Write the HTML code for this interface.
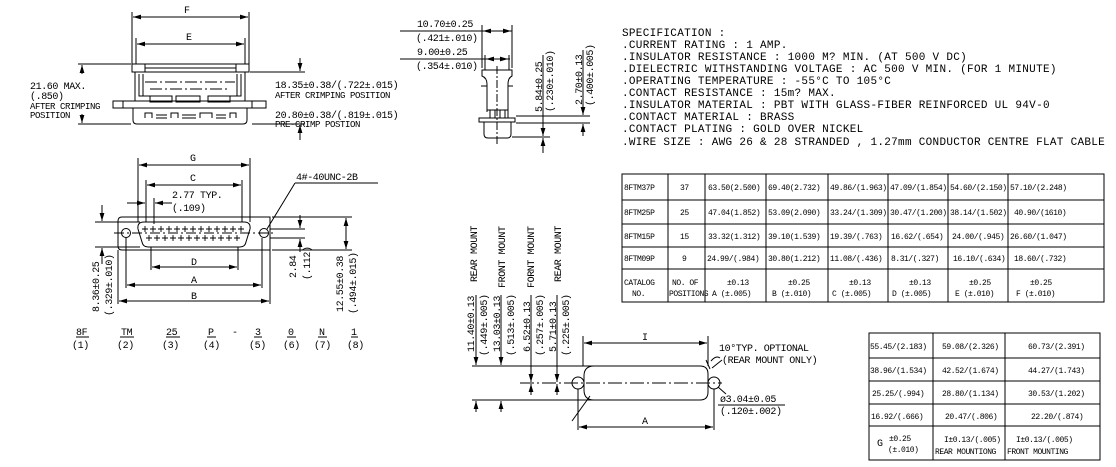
<!DOCTYPE html>
<html><head><meta charset="utf-8"><style>
html,body{margin:0;padding:0;background:#fff;width:1116px;height:467px;overflow:hidden}
svg{display:block}
text{font-family:"Liberation Mono",monospace;font-size:10px;fill:#000;letter-spacing:-0.4px}
.s{font-size:9px}
.t{font-size:8px;letter-spacing:-0.45px}
.sp{font-size:11px;letter-spacing:0.3px}
</style></head><body>
<svg width="1116" height="467" viewBox="0 0 1116 467" xmlns="http://www.w3.org/2000/svg">
<defs>
<marker id="a" viewBox="0 0 10 6" refX="10" refY="3" markerWidth="8" markerHeight="5" orient="auto-start-reverse" markerUnits="userSpaceOnUse"><path d="M0,0L10,3L0,6z" fill="#000"/></marker>
</defs>
<g stroke="#000" stroke-width="1" fill="none">
<!-- TOP LEFT VIEW -->
<line x1="132" y1="12" x2="132" y2="64"/><line x1="249" y1="12" x2="249" y2="64"/>
<line x1="133" y1="17" x2="248" y2="17" marker-start="url(#a)" marker-end="url(#a)"/>
<line x1="136" y1="38" x2="136" y2="64"/><line x1="245" y1="38" x2="245" y2="64"/>
<line x1="137" y1="44" x2="244" y2="44" marker-start="url(#a)" marker-end="url(#a)"/>
<rect x="132" y="64" width="117" height="8"/>
<rect x="132" y="64" width="13" height="8"/><rect x="236" y="64" width="13" height="8"/>
<line x1="145" y1="68" x2="236" y2="68"/>
<path d="M135 72V101M245 72V101M139 74V96H156M241 74V96H224"/>
<path d="M143 74V96M237 74V96"/>
<line x1="145" y1="82" x2="235" y2="82" stroke-dasharray="12 3 2 3"/>
<line x1="150" y1="89" x2="230" y2="89" stroke-dasharray="12 3 2 3"/>
<rect x="150" y="96" width="22" height="6"/><rect x="176" y="96" width="24" height="6"/><rect x="208" y="96" width="22" height="6"/>
<rect x="113" y="101" width="153" height="7"/>
<line x1="123" y1="101" x2="123" y2="108"/><line x1="252" y1="101" x2="252" y2="108"/>
<path d="M133 108V120Q133 124 137 124H243Q247 124 247 120V108"/>
<path d="M145 118V113H152V118M156 115H167M156 118H167M171 118V113H178V118M182 115H196M182 118H196M200 118V113H212V118M216 115H226M216 118H226M230 118V113H236V118"/>
<line x1="78" y1="64" x2="131" y2="64"/><line x1="78" y1="124" x2="131" y2="124"/>
<line x1="82" y1="74" x2="82" y2="65" marker-end="url(#a)"/><line x1="82" y1="114" x2="82" y2="123" marker-end="url(#a)"/>
<line x1="250" y1="72" x2="305" y2="72"/><line x1="252" y1="124" x2="305" y2="124"/>
<line x1="300" y1="58" x2="300" y2="71" marker-end="url(#a)"/><line x1="300" y1="140" x2="300" y2="125" marker-end="url(#a)"/>

<!-- FRONT VIEW -->
<line x1="138" y1="158" x2="138" y2="222"/><line x1="250" y1="158" x2="250" y2="222"/>
<line x1="139" y1="165" x2="249" y2="165" marker-start="url(#a)" marker-end="url(#a)"/>
<line x1="146" y1="180" x2="146" y2="222"/><line x1="242" y1="180" x2="242" y2="222"/>
<line x1="147" y1="185" x2="241" y2="185" marker-start="url(#a)" marker-end="url(#a)"/>
<line x1="154" y1="198" x2="154" y2="224"/>
<line x1="127" y1="203" x2="145" y2="203" marker-end="url(#a)"/>
<line x1="172" y1="203" x2="155" y2="203" marker-end="url(#a)"/>
<path d="M122 217H270V250H122Q118 250 118 246V221Q118 217 122 217Z"/>
<path d="M144 222H244Q251 222 250 229L246 242Q245 247 240 247H148Q143 247 142 242L138 229Q137 222 144 222Z"/>
<circle cx="126" cy="233" r="4.5"/><circle cx="264" cy="233" r="4.5"/>
<line x1="114" y1="233" x2="276" y2="233" stroke-dasharray="10 3 2 3"/>
<line x1="95" y1="222" x2="140" y2="222"/><line x1="95" y1="247" x2="140" y2="247"/>
<line x1="102" y1="205" x2="102" y2="221" marker-end="url(#a)"/><line x1="102" y1="264" x2="102" y2="248" marker-end="url(#a)"/>
<line x1="270" y1="229" x2="305" y2="229"/><line x1="270" y1="238" x2="305" y2="238"/>
<line x1="300" y1="215" x2="300" y2="228" marker-end="url(#a)"/><line x1="300" y1="252" x2="300" y2="239" marker-end="url(#a)"/>
<line x1="272" y1="217" x2="352" y2="217"/><line x1="272" y1="250" x2="352" y2="250"/>
<line x1="346" y1="218" x2="346" y2="249" marker-start="url(#a)" marker-end="url(#a)"/>
<line x1="151" y1="247" x2="151" y2="270"/><line x1="238" y1="247" x2="238" y2="270"/>
<line x1="152" y1="267" x2="237" y2="267" marker-start="url(#a)" marker-end="url(#a)"/>
<line x1="126" y1="238" x2="126" y2="288"/><line x1="262" y1="238" x2="262" y2="288"/>
<line x1="127" y1="285" x2="261" y2="285" marker-start="url(#a)" marker-end="url(#a)"/>
<line x1="118" y1="250" x2="118" y2="304"/><line x1="270" y1="250" x2="270" y2="304"/>
<line x1="119" y1="301" x2="269" y2="301" marker-start="url(#a)" marker-end="url(#a)"/>
<path d="M295 183L267 229M295 183H378"/>
<g stroke-width="0.9">
<path d="M142 229h6M145 226v6M150 229h6M153 226v6M158 229h6M161 226v6M166 229h6M169 226v6M174 229h6M177 226v6M182 229h6M185 226v6M190 229h6M193 226v6M198 229h6M201 226v6M206 229h6M209 226v6M214 229h6M217 226v6M222 229h6M225 226v6M230 229h6M233 226v6M238 229h6M241 226v6"/>
<path d="M146 238h6M149 235v6M154 238h6M157 235v6M162 238h6M165 235v6M170 238h6M173 235v6M178 238h6M181 235v6M186 238h6M189 235v6M194 238h6M197 235v6M202 238h6M205 235v6M210 238h6M213 235v6M218 238h6M221 235v6M226 238h6M229 235v6M234 238h6M237 235v6"/>
</g>
<path d="M76 337H89M120 337H134M166 337H180M207 337H216M254 337H262M287 337H296M318 337H327M351 337H358"/>

<!-- MIDDLE TOP SIDE VIEW -->
<path d="M400 31H512M400 59H510"/>
<line x1="482" y1="25" x2="482" y2="68"/><line x1="512" y1="25" x2="512" y2="68"/>
<line x1="494" y1="31" x2="483" y2="31" marker-end="url(#a)"/><line x1="500" y1="31" x2="511" y2="31" marker-end="url(#a)"/>
<line x1="485" y1="55" x2="485" y2="70"/><line x1="509" y1="55" x2="509" y2="70"/>
<line x1="495" y1="59" x2="486" y2="59" marker-end="url(#a)"/><line x1="499" y1="59" x2="508" y2="59" marker-end="url(#a)"/>
<path d="M482 70H512V76Q508 78 508 84V110H487V84Q487 78 482 76Z"/>
<path d="M481 86H487V112M513 86H508V112M487 110H508V118M490 110V118M505 110V118M495 110V118M500 110V118"/>
<rect x="479" y="118" width="36" height="4"/>
<path d="M484 122V134Q484 138 488 138H507Q511 138 511 134V122"/>
<line x1="497" y1="66" x2="497" y2="146" stroke-dasharray="8 2 2 2"/>
<line x1="516" y1="116" x2="590" y2="116"/><line x1="516" y1="123" x2="590" y2="123"/><line x1="512" y1="137" x2="550" y2="137"/>
<line x1="543" y1="55" x2="543" y2="136"/><line x1="543" y1="125" x2="543" y2="136" marker-end="url(#a)"/><line x1="543" y1="153" x2="543" y2="138" marker-end="url(#a)"/>
<line x1="583" y1="50" x2="583" y2="115"/><line x1="583" y1="104" x2="583" y2="115" marker-end="url(#a)"/><line x1="583" y1="136" x2="583" y2="124" marker-end="url(#a)"/>

<!-- MOUNT VIEW -->
<line x1="472" y1="366" x2="600" y2="366"/><line x1="472" y1="400" x2="600" y2="400"/>
<line x1="520" y1="383" x2="722" y2="383" stroke-dasharray="14 3 2 3"/>
<path d="M594 366H700Q708 366 708 374V392Q708 400 700 400H594Q584 400 584 390V376Q584 366 594 366Z"/>
<circle cx="578" cy="383" r="6"/><circle cx="714" cy="383" r="6"/>
<line x1="583" y1="336" x2="583" y2="366"/><line x1="708" y1="336" x2="708" y2="366"/>
<line x1="584" y1="343" x2="707" y2="343" marker-start="url(#a)" marker-end="url(#a)"/>
<line x1="578" y1="389" x2="578" y2="430"/><line x1="714" y1="389" x2="714" y2="430"/>
<line x1="579" y1="427" x2="713" y2="427" marker-start="url(#a)" marker-end="url(#a)"/>
<line x1="476" y1="295" x2="476" y2="365" marker-end="url(#a)"/><line x1="476" y1="412" x2="476" y2="401" marker-end="url(#a)"/>
<line x1="501" y1="295" x2="501" y2="365" marker-end="url(#a)"/><line x1="501" y1="412" x2="501" y2="401" marker-end="url(#a)"/>
<line x1="531" y1="295" x2="531" y2="382" marker-end="url(#a)"/><line x1="531" y1="395" x2="531" y2="384" marker-end="url(#a)"/>
<line x1="557" y1="295" x2="557" y2="382" marker-end="url(#a)"/><line x1="557" y1="395" x2="557" y2="384" marker-end="url(#a)"/>
<path d="M572 421L590 396M711 361Q716 355 720 358M710 369L706 360M722 360L712 368M726 394L718 387M718 405H785"/>

<!-- TABLE 1 -->
<rect x="622" y="174" width="482" height="128"/>
<path d="M622 200H1104M622 224H1104M622 247H1104M622 269H1104"/>
<path d="M668 174V302M705 174V302M766 174V302M828 174V302M888 174V302M948 174V302M1008 174V302"/>
<!-- TABLE 2 -->
<rect x="869" y="333" width="231" height="127"/>
<path d="M869 358H1100M869 381H1100M869 404H1100M869 426H1100M933 333V460M1005 333V460"/>
</g>

<!-- TEXT -->
<text x="184" y="13" font-size="11">F</text>
<text x="186" y="40" font-size="11">E</text>
<text x="30" y="89">21.60 MAX.</text>
<text x="30" y="99">(.850)</text>
<text x="30" y="109" class="s">AFTER CRIMPING</text>
<text x="30" y="118" class="s">POSITION</text>
<text x="275" y="88">18.35±0.38/(.722±.015)</text>
<text x="275" y="98" class="s">AFTER CRIMPING POSITION</text>
<text x="275" y="118">20.80±0.38/(.819±.015)</text>
<text x="275" y="127" class="s">PRE-CRIMP POSTION</text>

<text x="190" y="161" font-size="11">G</text>
<text x="190" y="181" font-size="11">C</text>
<text x="172" y="198">2.77 TYP.</text>
<text x="172" y="211">(.109)</text>
<text x="296" y="180">4#-40UNC-2B</text>
<text x="191" y="265" font-size="11">D</text>
<text x="191" y="283" font-size="11">A</text>
<text x="191" y="299" font-size="11">B</text>
<text transform="translate(99,312) rotate(-90)">8.36±0.25</text>
<text transform="translate(112,316) rotate(-90)">(.329±.010)</text>
<text transform="translate(296,278) rotate(-90)">2.84</text>
<text transform="translate(310,280) rotate(-90)">(.112)</text>
<text transform="translate(343,312) rotate(-90)">12.55±0.38</text>
<text transform="translate(356,314) rotate(-90)">(.494±.015)</text>
<text x="76" y="335">8F</text><text x="121" y="335">TM</text><text x="166" y="335">25</text><text x="208" y="335">P</text><text x="232" y="335">-</text><text x="255" y="335">3</text><text x="288" y="335">0</text><text x="319" y="335">N</text><text x="351" y="335">1</text>
<text x="72" y="348">(1)</text><text x="117" y="348">(2)</text><text x="162" y="348">(3)</text><text x="203" y="348">(4)</text><text x="249" y="348">(5)</text><text x="283" y="348">(6)</text><text x="314" y="348">(7)</text><text x="347" y="348">(8)</text>

<text x="417" y="27">10.70±0.25</text>
<text x="416" y="41">(.421±.010)</text>
<text x="417" y="55">9.00±0.25</text>
<text x="416" y="69">(.354±.010)</text>
<text transform="translate(542,112) rotate(-90)">5.84±0.25</text>
<text transform="translate(553,112) rotate(-90)">(.230±.010)</text>
<text transform="translate(582,105) rotate(-90)">2.70±0.13</text>
<text transform="translate(593,106) rotate(-90)">(.400±.005)</text>

<text transform="translate(477,282) rotate(-90)">REAR MOUNT</text>
<text transform="translate(505,288) rotate(-90)">FRONT MOUNT</text>
<text transform="translate(534,288) rotate(-90)">FORNT MOUNT</text>
<text transform="translate(561,282) rotate(-90)">REAR MOUNT</text>
<text transform="translate(474,352) rotate(-90)">11.40±0.13</text>
<text transform="translate(487,356) rotate(-90)">(.449±.005)</text>
<text transform="translate(500,352) rotate(-90)">13.03±0.13</text>
<text transform="translate(514,356) rotate(-90)">(.513±.005)</text>
<text transform="translate(530,352) rotate(-90)">6.52±0.13</text>
<text transform="translate(543,356) rotate(-90)">(.257±.005)</text>
<text transform="translate(556,352) rotate(-90)">5.71±0.13</text>
<text transform="translate(569,356) rotate(-90)">(.225±.005)</text>
<text x="642" y="340" font-size="11">I</text>
<text x="642" y="424" font-size="11">A</text>
<text x="719" y="351">10°TYP. OPTIONAL</text>
<text x="722" y="363">(REAR MOUNT ONLY)</text>
<text x="720" y="402">ø3.04±0.05</text>
<text x="720" y="414">(.120±.002)</text>

<g>
<text x="622" y="36" class="sp">SPECIFICATION :</text>
<text x="622" y="48" class="sp">.CURRENT RATING : 1 AMP.</text>
<text x="622" y="60" class="sp">.INSULATOR RESISTANCE : 1000 M? MIN. (AT 500 V DC)</text>
<text x="622" y="72" class="sp">.DIELECTRIC WITHSTANDING VOLTAGE : AC 500 V MIN. (FOR 1 MINUTE)</text>
<text x="622" y="84" class="sp">.OPERATING TEMPERATURE : -55°C TO 105°C</text>
<text x="622" y="96" class="sp">.CONTACT RESISTANCE : 15m? MAX.</text>
<text x="622" y="108" class="sp">.INSULATOR MATERIAL : PBT WITH GLASS-FIBER REINFORCED UL 94V-0</text>
<text x="622" y="120" class="sp">.CONTACT MATERIAL : BRASS</text>
<text x="622" y="132" class="sp">.CONTACT PLATING : GOLD OVER NICKEL</text>
<text x="622" y="145" class="sp">.WIRE SIZE : AWG 26 &amp; 28 STRANDED , 1.27mm CONDUCTOR CENTRE FLAT CABLE</text>
</g>

<g>
<text x="624" y="190" class="t">8FTM37P</text><text x="680" y="190" class="t">37</text>
<text x="708" y="190" class="t">63.50(2.500)</text><text x="768" y="190" class="t">69.40(2.732)</text><text x="830" y="190" class="t">49.86/(1.963)</text><text x="890" y="190" class="t">47.09/(1.854)</text><text x="950" y="190" class="t">54.60/(2.150)</text><text x="1010" y="190" class="t">57.10/(2.248)</text>
<text x="624" y="215" class="t">8FTM25P</text><text x="680" y="215" class="t">25</text>
<text x="708" y="215" class="t">47.04(1.852)</text><text x="768" y="215" class="t">53.09(2.090)</text><text x="830" y="215" class="t">33.24/(1.309)</text><text x="890" y="215" class="t">30.47/(1.200)</text><text x="950" y="215" class="t">38.14/(1.502)</text><text x="1014" y="215" class="t">40.90/(1610)</text>
<text x="624" y="239" class="t">8FTM15P</text><text x="680" y="239" class="t">15</text>
<text x="708" y="239" class="t">33.32(1.312)</text><text x="768" y="239" class="t">39.10(1.539)</text><text x="830" y="239" class="t">19.39/(.763)</text><text x="891" y="239" class="t">16.62/(.654)</text><text x="952" y="239" class="t">24.00/(.945)</text><text x="1010" y="239" class="t">26.60/(1.047)</text>
<text x="624" y="261" class="t">8FTM09P</text><text x="682" y="261" class="t">9</text>
<text x="707" y="261" class="t">24.99/(.984)</text><text x="768" y="261" class="t">30.80(1.212)</text><text x="830" y="261" class="t">11.08/(.436)</text><text x="891" y="261" class="t">8.31/(.327)</text><text x="953" y="261" class="t">16.10/(.634)</text><text x="1014" y="261" class="t">18.60/(.732)</text>
<text x="624" y="285" class="t">CATALOG</text><text x="632" y="296" class="t">NO.</text>
<text x="672" y="285" class="t">NO.  OF</text><text x="669" y="296" class="t">POSITIONS</text>
<text x="727" y="285" class="t">±0.13</text><text x="712" y="296" class="t">A (±.005)</text>
<text x="788" y="285" class="t">±0.25</text><text x="772" y="296" class="t">B (±.010)</text>
<text x="849" y="285" class="t">±0.13</text><text x="832" y="296" class="t">C (±.005)</text>
<text x="909" y="285" class="t">±0.13</text><text x="892" y="296" class="t">D (±.005)</text>
<text x="969" y="285" class="t">±0.25</text><text x="955" y="296" class="t">E (±.010)</text>
<text x="1030" y="285" class="t">±0.25</text><text x="1016" y="296" class="t">F (±.010)</text>

<text x="870" y="349" class="t">55.45/(2.183)</text><text x="942" y="349" class="t">59.08/(2.326)</text><text x="1028" y="349" class="t">60.73/(2.391)</text>
<text x="870" y="373" class="t">38.96/(1.534)</text><text x="942" y="373" class="t">42.52/(1.674)</text><text x="1028" y="373" class="t">44.27/(1.743)</text>
<text x="872" y="396" class="t">25.25/(.994)</text><text x="942" y="396" class="t">28.80/(1.134)</text><text x="1028" y="396" class="t">30.53/(1.202)</text>
<text x="871" y="419" class="t">16.92/(.666)</text><text x="945" y="419" class="t">20.47/(.806)</text><text x="1031" y="419" class="t">22.20/(.874)</text>
<text x="877" y="446">G</text><text x="889" y="441" class="t">±0.25</text><text x="888" y="452" class="t">(±.010)</text>
<text x="944" y="442" class="t">I±0.13/(.005)</text><text x="935" y="454" class="t">REAR MOUNTIONG</text>
<text x="1016" y="442" class="t">I±0.13/(.005)</text><text x="1007" y="454" class="t">FRONT MOUNTING</text>
</g>
</svg>
</body></html>
